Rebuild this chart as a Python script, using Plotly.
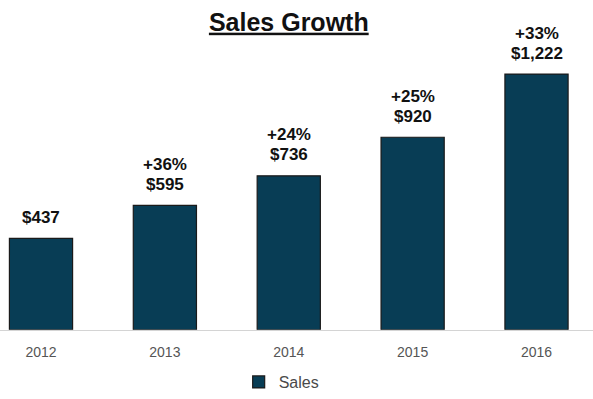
import plotly.graph_objects as go

years = ["2012", "2013", "2014", "2015", "2016"]
sales = [437, 595, 736, 920, 1222]
growth = ["", "+36%", "+24%", "+25%", "+33%"]

FONT = "Liberation Sans, Arial, Helvetica, sans-serif"
BAR_COLOR = "#083d55"

xpos = list(range(len(years)))

fig = go.Figure()
fig.add_trace(go.Bar(
    x=xpos, y=sales, name="Sales", width=0.51,
    marker=dict(color=BAR_COLOR, line=dict(color="#1a1a1a", width=1.2)),
    hoverinfo="skip",
))

# value label right above each bar, growth rate on the line above it
for x, v, g in zip(xpos, sales, growth):
    fig.add_annotation(
        x=x, y=v, xref="x", yref="y", text="<b>${:,}</b>".format(v),
        showarrow=False, yanchor="middle", yshift=21,
        font=dict(family=FONT, size=17, color="#111111"),
    )
    if g:
        fig.add_annotation(
            x=x, y=v, xref="x", yref="y", text=f"<b>{g}</b>",
            showarrow=False, yanchor="middle", yshift=41,
            font=dict(family=FONT, size=17, color="#111111"),
        )

fig.update_layout(
    width=593, height=399,
    margin=dict(l=0, r=0, t=0, b=0),
    paper_bgcolor="white", plot_bgcolor="white",
    title=dict(text="<b><u>Sales Growth</u></b>", x=0.487, xanchor="center",
               y=0.945, yanchor="middle",
               font=dict(family=FONT, size=25, color="#111111")),
    showlegend=True,
    legend=dict(orientation="h", x=0.475, xanchor="center", y=0.03, yanchor="middle",
                font=dict(family=FONT, size=16, color="#4a4a4a"),
                itemwidth=30),
)
fig.update_xaxes(
    tickmode="array", tickvals=xpos, ticktext=years,
    range=[-0.331, 4.456], showgrid=False, zeroline=False,
    showline=True, linecolor="#d4d4d4", linewidth=1, ticks="",
    ticklabelstandoff=9,
    tickfont=dict(family=FONT, size=14, color="#555555"),
)
# value axis: zero sits on the category axis line, labels hidden
fig.update_yaxes(visible=False, range=[0, 1222 * (334 - 0) / (334 - 75)],
                 domain=[(399 - 334) / 399, 1.0])
fig.write_html("out.html")
